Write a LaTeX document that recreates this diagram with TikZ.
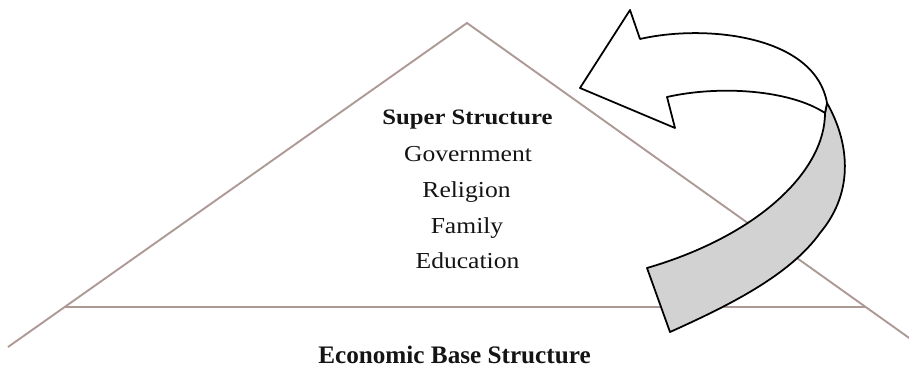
\documentclass[tikz,border=0pt]{standalone}
\usepackage{fontspec}
\setmainfont{Liberation Serif}[FakeStretch=1.12]
\newfontfamily\basefont{Liberation Serif}
\definecolor{leg}{RGB}{172,152,148}
\definecolor{ribbon}{RGB}{210,210,210}
\definecolor{ink}{RGB}{20,20,20}
\begin{document}
\begin{tikzpicture}[x=0.03cm,y=-0.03cm,
  legline/.style={draw=leg,line width=1.6pt},
  arrowpart/.style={draw=black,line width=1.5pt,line join=round},
  item/.style={anchor=base,inner sep=0pt,text=ink,font=\fontsize{19.5}{22}\selectfont},
  headline/.style={anchor=base,inner sep=0pt,text=ink,font=\fontsize{18.8}{22}\selectfont\bfseries},
  baseline/.style={anchor=base,inner sep=0pt,text=ink,font=\basefont\fontsize{21.5}{25}\selectfont\bfseries}]
\useasboundingbox (0,0) rectangle (909,369);
% triangle
\coordinate (apex) at (467,23);
\coordinate (bl) at (65,307);
\coordinate (br) at (865,307);
\coordinate (lend) at (8,347);
\coordinate (rend) at (912,340);
\draw[legline] (lend) -- (apex) -- (rend);
\draw[legline] (bl) -- (br);
% gray twisted ribbon
\coordinate (twA) at (827,103);
\coordinate (twB) at (825,113);
\coordinate (rmid) at (820,233);
\coordinate (endR) at (670,332);
\coordinate (endL) at (647,268);
\draw[arrowpart,fill=ribbon] (twA) .. controls (848,140) and (856,190) .. (rmid)
  .. controls (790,275) and (730,305) .. (endR) -- (endL)
  .. controls (760,235) and (825,170) .. (twB) -- cycle;
% white arrow
\coordinate (ntop) at (640,39);
\coordinate (ctop) at (630,10);
\coordinate (tip) at (580,88);
\coordinate (cbot) at (675,128);
\coordinate (nbot) at (667,97);
\draw[arrowpart,fill=white] (twA) .. controls (815,35) and (705,24) .. (ntop)
  -- (ctop) -- (tip) -- (cbot) -- (nbot)
  .. controls (720,85) and (790,90) .. (twB) -- cycle;
% texts
\node[headline] (sup) at (467.5,125) {Super Structure};
\node[item] (gov) at (468,161.5) {Government};
\node[item] (rel) at (466.5,197) {Religion};
\node[item] (fam) at (467,233) {Family};
\node[item] (edu) at (467.5,268) {Education};
\node[baseline] (eco) at (454.5,363.5) {Economic Base Structure};
\end{tikzpicture}
\end{document}
